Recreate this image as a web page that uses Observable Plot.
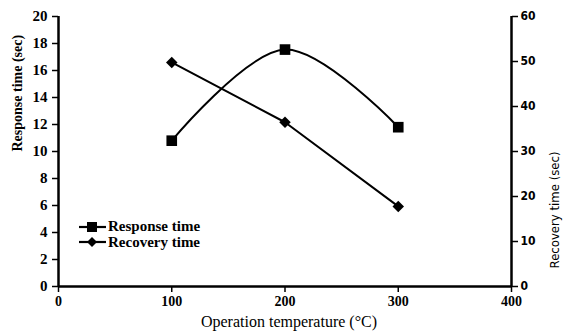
<!DOCTYPE html>
<html><head><meta charset="utf-8">
<script src="https://cdn.jsdelivr.net/npm/d3@7"></script>
<script src="https://cdn.jsdelivr.net/npm/@observablehq/plot@0.6"></script>
<style>
body{margin:0;background:#fff;}
#wrap{position:relative;width:563px;height:336px;}
#legend{position:absolute;left:77px;top:219px;font-family:"Liberation Serif";font-size:15px;font-weight:bold;line-height:15px;color:#000;}
#legend div{display:flex;align-items:center;height:15.5px;}
#legend svg{margin-right:1px;}
</style></head>
<body><div id="wrap"><div id="legend"></div></div>
<script>
const temperatures = [100, 200, 300];
const responseTime = [10.8, 17.55, 11.8];
const recoveryTime = [49.8, 36.5, 17.8];
const xTicks = [0, 100, 200, 300, 400];
const leftTicks = [0, 2, 4, 6, 8, 10, 12, 14, 16, 18, 20];
const rightTicks = [0, 10, 20, 30, 40, 50, 60];
const seriesNames = ["Response time", "Recovery time"];

const ratio = 3; // right axis max 60 vs left 20
const resp = temperatures.map((t, i) => ({t, v: responseTime[i]}));
const rec = temperatures.map((t, i) => ({t, v: recoveryTime[i] / ratio}));

const serif = "Liberation Serif";
const sans = "DejaVu Sans Condensed";
const chart = Plot.plot({
  width: 563, height: 336,
  marginLeft: 58, marginRight: 52, marginTop: 16, marginBottom: 50,
  style: {background: "white", color: "black"},
  x: {domain: [0, 400]},
  y: {domain: [0, 20]},
  marks: [
    Plot.axisY({ticks: leftTicks, tickSize: 6, tickPadding: 5, tickFormat: d => d, label: null,
      fontSize: 15, fontWeight: "bold", fontFamily: serif, strokeWidth: 1.5}),
    Plot.axisY({anchor: "right", ticks: rightTicks.map(v => v / ratio), tickSize: 6, tickPadding: 3,
      tickFormat: d => Math.round(d * ratio), label: null, fontSize: 12, fontWeight: "bold",
      fontFamily: sans, strokeWidth: 1.5}),
    Plot.axisX({ticks: xTicks, tickSize: 6, tickPadding: 4, tickFormat: d => d, label: null,
      fontSize: 14, fontWeight: "bold", fontFamily: serif, strokeWidth: 1.5}),
    Plot.ruleX([0], {strokeWidth: 2.5}),
    Plot.ruleX([400], {strokeWidth: 2.5}),
    Plot.ruleY([0], {strokeWidth: 2.5}),
    Plot.line(resp, {x: "t", y: "v", curve: "catmull-rom", strokeWidth: 2}),
    Plot.line(rec, {x: "t", y: "v", strokeWidth: 2}),
    Plot.dot(resp, {x: "t", y: "v", symbol: "square", r: 6, fill: "black", stroke: "none"}),
    Plot.dot(rec, {x: "t", y: "v", symbol: "diamond2", r: 5.2, fill: "black", stroke: "none"}),
    Plot.text(["Response time (sec)"], {frameAnchor: "left", dx: -41, rotate: -90, fontSize: 14,
      fontWeight: "bold", fontFamily: serif}),
    Plot.text(["Recovery time (sec)"], {frameAnchor: "right", dx: 43, rotate: -90, fontSize: 13, fontFamily: sans}),
    Plot.text(["Operation temperature (°C)"], {frameAnchor: "bottom", dx: 4, dy: 40, fontSize: 16, fontFamily: serif})
  ]
});
document.getElementById("wrap").prepend(chart);

const legend = document.getElementById("legend");
seriesNames.forEach((name, i) => {
  const row = document.createElement("div");
  const sym = i === 0
    ? '<rect x="10" y="3" width="10" height="10" fill="black"/>'
    : '<path d="M15 3 L20 8 L15 13 L10 8 Z" fill="black"/>';
  row.innerHTML = `<svg width="30" height="16"><line x1="2" x2="29" y1="8" y2="8" stroke="black" stroke-width="2.2"/>${sym}</svg><span>${name}</span>`;
  legend.appendChild(row);
});
</script></body></html>
